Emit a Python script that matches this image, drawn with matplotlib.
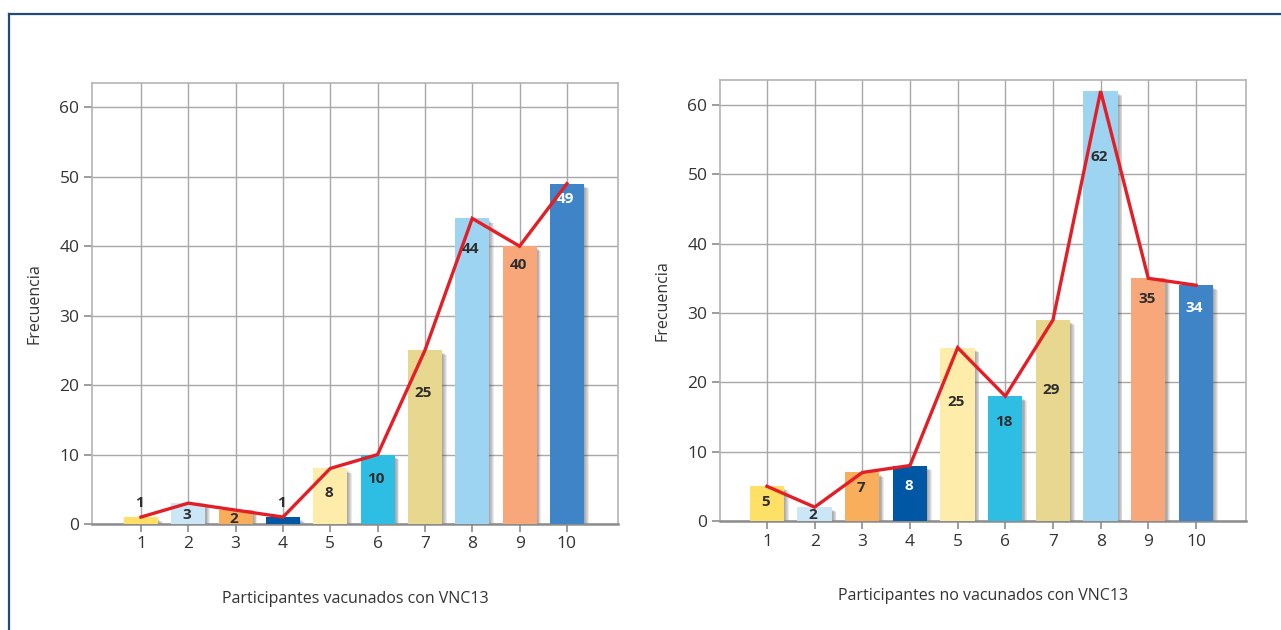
import matplotlib
matplotlib.use("Agg")
import matplotlib.pyplot as plt
from matplotlib.lines import Line2D

plt.rcParams['font.family'] = ['Open Sans', 'DejaVu Sans']

categorias = [1, 2, 3, 4, 5, 6, 7, 8, 9, 10]
vacunados = [1, 3, 2, 1, 8, 10, 25, 44, 40, 49]
no_vacunados = [5, 2, 7, 8, 25, 18, 29, 62, 35, 34]

colores = ['#FFE066', '#CBE7F7', '#F9AE5C', '#0057A3', '#FEEDAA',
           '#2EBEE4', '#E8D78E', '#9DD4F2', '#F7A77A', '#3E84C6']
# white text on the dark bars
color_texto_izq = ['#2E2E2E'] * 9 + ['#FFFFFF']
color_texto_der = ['#2E2E2E'] * 3 + ['#FFFFFF'] + ['#2E2E2E'] * 5 + ['#FFFFFF']

# how far below the bar top each label sits (negative = above the bar)
desp_izq = [-2.0, 1.7, 1.3, -2.0, 3.5, 3.5, 6.2, 4.4, 2.7, 2.2]
desp_der = [2.3, 1.1, 2.2, 3.0, 7.8, 3.7, 10.1, 9.5, 3.0, 3.3]

titulo_izq = 'Participantes vacunados con VNC13'
titulo_der = 'Participantes no vacunados con VNC13'

W, H = 1281, 630
fig = plt.figure(figsize=(W / 100, H / 100), dpi=100)

# frame line along top and left edges
fig.add_artist(Line2D([9 / W, 1], [1 - 14 / H, 1 - 14 / H], color='#1F4B74', lw=1.6))
fig.add_artist(Line2D([9 / W, 9 / W], [0, 1 - 14 / H], color='#1F4B74', lw=1.6))


def dibuja(ax, valores, desp, col_txt, xlim, ylim, xlabel):
    ax.set_xlim(*xlim)
    ax.set_ylim(*ylim)
    ax.set_axisbelow(True)
    ax.grid(True, color='#A8A8A8', lw=1.0)
    for s in ax.spines.values():
        s.set_color('#B4B4B4')
        s.set_linewidth(1.2)
    ax.spines['bottom'].set_color('#8C8C8C')
    ax.spines['bottom'].set_linewidth(1.8)

    w = 0.72
    # soft shadow behind each bar
    for k in range(5):
        off = 0.025 + k * 0.018
        ax.bar([c + off for c in categorias], [v - 0.15 for v in valores], width=w,
               bottom=-0.2 - k * 0.08, color='#444444', alpha=0.11, zorder=2, lw=0)
    ax.bar(categorias, valores, width=w, color=colores, zorder=3, lw=0)

    ax.plot(categorias, valores, color='#E41E26', lw=2.4, zorder=5,
            solid_joinstyle='miter')

    for c, v, d, t in zip(categorias, valores, desp, col_txt):
        ax.text(c - 0.03, v - d, str(v), ha='center', va='center', fontsize=11,
                fontweight='bold', color=t, zorder=6)

    ax.set_xticks(categorias)
    ax.set_yticks([0, 10, 20, 30, 40, 50, 60])
    ax.tick_params(axis='both', length=6, width=1.2, color='#8C8C8C',
                   labelsize=12.5, labelcolor='#333333', pad=3)
    ax.set_ylabel('Frecuencia', fontsize=11.5, color='#333333', labelpad=12)
    ax.set_xlabel(xlabel, fontsize=11.5, color='#333333', labelpad=28)


ax1 = fig.add_axes([92 / W, 1 - 524 / H, 526 / W, 441 / H])
dibuja(ax1, vacunados, desp_izq, color_texto_izq, (-0.035, 11.08), (0, 63.5), titulo_izq)

ax2 = fig.add_axes([720 / W, 1 - 521 / H, 526 / W, 441 / H])
dibuja(ax2, no_vacunados, desp_der, color_texto_der, (0.014, 11.05), (0, 63.6), titulo_der)

fig.savefig('out.png', dpi=100)
